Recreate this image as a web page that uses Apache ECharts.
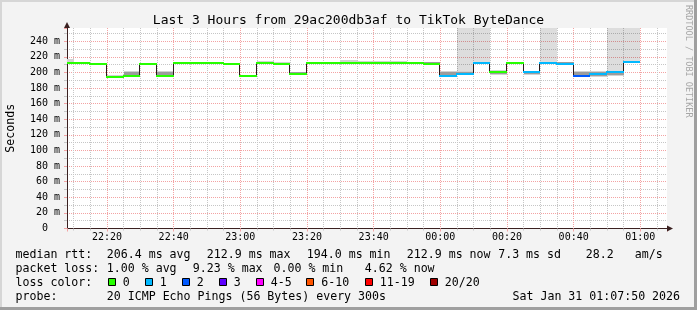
<!DOCTYPE html>
<html><head><meta charset="utf-8">
<script src="https://cdn.jsdelivr.net/npm/echarts@6/dist/echarts.min.js"></script>
<style>html,body{margin:0;padding:0;background:#f3f3f3}#c{width:697px;height:310px}</style>
</head><body><div id="c"></div><script>
// ---- data (each value = 5-minute step ending at the given time) ----
const timeLabels = ['22:10','22:15','22:20','22:25','22:30','22:35','22:40','22:45','22:50','22:55',
  '23:00','23:05','23:10','23:15','23:20','23:25','23:30','23:35','23:40','23:45','23:50','23:55',
  '00:00','00:05','00:10','00:15','00:20','00:25','00:30','00:35','00:40','00:45','00:50','00:55','01:00'];
const medianMs = [212.0,212.0,210.6,194.0,195.6,210.6,195.9,212.2,212.2,212.2,
  210.6,195.6,212.2,210.6,197.4,212.2,212.2,212.3,212.3,212.3,212.3,212.2,
  210.6,195.5,197.4,212.2,200.0,212.2,200.0,212.2,211.0,195.6,197.8,200.0,212.9];
const lossPings = [0,0,0,0,0,0,0,0,0,0,
  0,0,0,0,0,0,0,0,0,0,0,0,
  0,1,1,1,0,0,1,1,1,2,1,1,1];
const smokeLoMs = [212.0,null,null,193.6,195.6,null,195.9,null,null,null,
  null,null,212.2,210.6,197.4,null,null,212.3,212.3,212.3,212.3,null,
  210.6,194.8,196.5,null,196.5,null,197.0,null,210.5,195.0,194.5,196.0,null];
const smokeHiMs = [217.0,null,null,196.5,202.5,null,202.0,null,null,null,
  null,null,214.5,212.8,201.2,null,null,215.5,214.5,214.5,215.2,null,
  213.8,202.5,201.5,null,203.8,null,202.3,null,214.0,202.0,201.8,202.3,null];
const smokeCoreLoMs = [null,null,null,null,196.5,null,196.8,null,null,null,
  null,null,null,null,198.0,null,null,null,null,212.5,null,null,
  211.0,196.2,197.5,null,197.5,null,198.0,null,211.0,196.5,195.5,197.0,null];
const smokeCoreHiMs = [null,null,null,null,201.2,null,200.8,null,null,null,
  null,null,null,null,200.3,null,null,null,null,214.0,null,null,
  213.3,201.2,200.8,null,202.5,null,201.8,null,213.5,200.5,200.5,201.5,null];
const lostPingSmoke = [0,0,0,0,0,0,0,0,0,0,
  0,0,0,0,0,0,0,0,0,0,0,0,
  0,0,1,1,0,0,0,1,0,0,0,1,1];
const xTickLabels = ['22:20','22:40','23:00','23:20','23:40','00:00','00:20','00:40','01:00'];
const lossLegend = ['0','1','2','3','4-5','6-10','11-19','20/20'];
const lossColors = ['#26ff00','#00b8ff','#0059ff','#5e00ff','#ff00ff','#ff5500','#ff0000','#a00000'];
const statsRtt = ['206.4 ms avg','212.9 ms max','194.0 ms min','212.9 ms now','7.3 ms sd','28.2','am/s'];
const statsLoss = ['1.00 % avg','9.23 % max','0.00 % min','4.62 % now'];
const startTime = '22:08', endTime = '01:08', stepMin = 5;

// ---- helpers ----
function toMin(t){ const [h,m]=t.split(':').map(Number); return (h<12?h+24:h)*60+m; }
function fmtMin(v){ const m=Math.round(v)%1440; const h=Math.floor(m/60), mm=m%60; return String(h).padStart(2,'0')+':'+String(mm).padStart(2,'0'); }
function lossColor(n){ if(n<=0) return lossColors[0]; if(n===1) return lossColors[1]; if(n===2) return lossColors[2]; if(n===3) return lossColors[3]; if(n<=5) return lossColors[4]; if(n<=10) return lossColors[5]; if(n<=19) return lossColors[6]; return lossColors[7]; }
const ends = timeLabels.map(toMin);
const segs = ends.map((e,i)=>[e-stepMin, e, medianMs[i], lossPings[i]]);
const steps = [];
ends.forEach((e,i)=>{ if(i>0) steps.push([e-stepMin, medianMs[i-1], medianMs[i]]); });
const outerBand = [], coreBand = [], lossBand = [];
ends.forEach((e,i)=>{
  if(smokeLoMs[i]!=null) outerBand.push([e-stepMin,e,smokeLoMs[i],smokeHiMs[i]]);
  if(smokeCoreLoMs[i]!=null) coreBand.push([e-stepMin,e,smokeCoreLoMs[i],smokeCoreHiMs[i]]);
  if(lostPingSmoke[i]) lossBand.push([e-stepMin,e,smokeHiMs[i]!=null?smokeHiMs[i]:medianMs[i]]);
});

const MONO = "'DejaVu Sans Mono', monospace";
const xMin = toMin(startTime), xMax = toMin(endTime);
const yMax = 257;

function clampX(cs, x){ return Math.max(cs.x, Math.min(cs.x+cs.width, x)); }
function bandItem(fill){
  return function(params, api){
    const cs = params.coordSys;
    const a = api.coord([api.value(0), api.value(3)]);
    const b = api.coord([api.value(1), api.value(2)]);
    const x0 = Math.round(clampX(cs,a[0])), x1 = Math.round(clampX(cs,b[0]));
    const y0 = Math.round(a[1]), y1 = Math.round(b[1]);
    return {type:'rect', shape:{x:x0, y:y0, width:x1-x0, height:y1-y0}, style:{fill:fill}};
  };
}
function lossItem(params, api){
  const cs = params.coordSys;
  const a = api.coord([api.value(0), api.value(2)]);
  const b = api.coord([api.value(1), api.value(2)]);
  const x0 = Math.round(clampX(cs,a[0])), x1 = Math.round(clampX(cs,b[0]));
  return {type:'rect', shape:{x:x0, y:cs.y, width:x1-x0, height:Math.round(a[1])-cs.y}, style:{fill:'rgba(0,0,0,0.135)'}};
}
function stepItem(params, api){
  const a = api.coord([api.value(0), api.value(1)]);
  const b = api.coord([api.value(0), api.value(2)]);
  const x = Math.round(a[0]) - 0.5;
  return {type:'line', shape:{x1:x, y1:Math.round(a[1]), x2:x, y2:Math.round(b[1])}, style:{stroke:'#2a1a1a', lineWidth:1}};
}
function segItem(params, api){
  const cs = params.coordSys;
  const a = api.coord([api.value(0), api.value(2)]);
  const b = api.coord([api.value(1), api.value(2)]);
  const x0 = Math.round(clampX(cs,a[0])) - 1, x1 = Math.round(clampX(cs,b[0]));
  const y = Math.round(a[1]);
  return {type:'line', shape:{x1:Math.max(x0,cs.x), y1:y, x2:x1, y2:y}, style:{stroke:lossColor(api.value(3)), lineWidth:2}};
}

// ---- legend graphics ----
const graphics = [];
function txt(x,y,s,extra){ graphics.push(Object.assign({type:'text', x:x, y:y, silent:true,
  style:{text:s, font:'11.6px '+MONO, fill:'#000', align:'left', verticalAlign:'middle'}}, extra||{})); }
txt(15.5,254.5,'median rtt:');
[106.8,206.8,306.8,406.8,498.2,585.8,634.8].forEach((x,i)=>txt(x,254.5,statsRtt[i]));
txt(15.5,268.5,'packet loss:');
[106.8,192.8,273.5,364.8].forEach((x,i)=>txt(x,268.5,statsLoss[i]));
txt(15.5,282.5,'loss color:');
const boxX=[108.5,145.5,182.5,219.5,256.5,306.5,365.5,430.5], labX=[122.8,159.8,196.8,233.8,270.8,321.2,379.8,444.8];
lossLegend.forEach((l,i)=>{
  graphics.push({type:'rect', silent:true, shape:{x:boxX[i], y:278.5, width:7, height:7}, style:{fill:lossColors[i], stroke:'#000', lineWidth:1}});
  txt(labX[i],282.5,l);
});
txt(15.5,296.5,'probe:');
txt(106.8,296.5,'20 ICMP Echo Pings (56 Bytes) every 300s');
txt(512.5,296.5,'Sat Jan 31 01:07:50 2026');
graphics.push({type:'text', x:688, y:5, rotation:-Math.PI/2, silent:true,
  style:{text:'RRDTOOL / TOBI OETIKER', font:'8.5px '+MONO, fill:'#a6a6a6', align:'left', verticalAlign:'middle'}});
graphics.push({type:'rect', silent:true, shape:{x:0,y:0,width:697,height:2}, style:{fill:'#d6d6d6'}});
graphics.push({type:'rect', silent:true, shape:{x:0,y:0,width:2,height:310}, style:{fill:'#d6d6d6'}});
graphics.push({type:'rect', silent:true, shape:{x:694,y:0,width:3,height:310}, style:{fill:'#9f9f9f'}});
graphics.push({type:'rect', silent:true, shape:{x:0,y:307,width:697,height:3}, style:{fill:'#9f9f9f'}});

const RED = '#f3a3a3', GRAY = '#c6c6c6', AXIS = '#3a2020';
const chart = echarts.init(document.getElementById('c'), null, {renderer:'canvas'});
chart.setOption({
  animation:false,
  backgroundColor:'#f3f3f3',
  title:{text:'Last 3 Hours from 29ac200db3af to TikTok ByteDance', left:'center', top:9,
    textStyle:{fontFamily:MONO, fontSize:13, fontWeight:'normal', color:'#000'}},
  grid:{left:67, top:28, width:600, height:200.5, show:true, backgroundColor:'#fff', borderWidth:0,
    containLabel:false, outerBoundsMode:'none'},
  xAxis:[{
    type:'value', min:xMin, max:xMax, minInterval:5, maxInterval:5, splitNumber:36, position:'bottom', offset:0,
    axisLine:{show:false}, axisLabel:{show:false},
    axisTick:{show:true, length:2, lineStyle:{color:GRAY}},
    splitLine:{show:true, showMaxLine:false, lineStyle:{color:GRAY, type:[1,1], width:1}}
  },{
    type:'value', min:xMin, max:xMax, minInterval:20, maxInterval:20, splitNumber:9, position:'bottom', offset:0,
    axisLine:{show:true, lineStyle:{color:AXIS, width:1}, symbol:['none','triangle'], symbolSize:[6,6], symbolOffset:[0,3]},
    axisTick:{show:true, length:3, lineStyle:{color:RED}},
    axisLabel:{margin:4, fontFamily:MONO, fontSize:10, color:'#000',
      formatter:v=>{ const s=fmtMin(v); return (Math.abs(v-Math.round(v))<1e-6 && Math.round(v)%20===0 && xTickLabels.includes(s))?s:''; }},
    splitLine:{show:true, showMinLine:false, showMaxLine:false, lineStyle:{color:RED, type:[1,1], width:1}}
  }],
  yAxis:[{
    type:'value', min:0, max:yMax, interval:10, position:'left', offset:0,
    axisLine:{show:false}, axisLabel:{show:false},
    axisTick:{show:true, length:3, lineStyle:{color:GRAY}},
    splitLine:{show:true, showMaxLine:false, lineStyle:{color:GRAY, type:[1,1], width:1}}
  },{
    type:'value', min:0, max:yMax, interval:20, position:'left', offset:0,
    name:'Seconds', nameLocation:'middle', nameGap:50, nameRotate:90,
    nameTextStyle:{fontFamily:MONO, fontSize:11.6, color:'#000'},
    axisLine:{show:true, lineStyle:{color:AXIS, width:1}, symbol:['none','triangle'], symbolSize:[6,6], symbolOffset:[0,3]},
    axisTick:{show:true, length:3, lineStyle:{color:RED}},
    axisLabel:{margin:7, fontFamily:MONO, fontSize:10, color:'#000',
      formatter:v=> v===0 ? '0  ' : (v%20===0 ? v+' m' : '')},
    splitLine:{show:true, showMinLine:false, showMaxLine:false, lineStyle:{color:RED, type:[1,1], width:1}}
  }],
  graphic:graphics,
  series:[
    {type:'custom', xAxisIndex:1, yAxisIndex:1, renderItem:lossItem, data:lossBand, encode:{x:[0,1], y:2}, silent:true},
    {type:'custom', xAxisIndex:1, yAxisIndex:1, renderItem:bandItem('#d2d2d2'), data:outerBand, encode:{x:[0,1], y:[2,3]}, silent:true},
    {type:'custom', xAxisIndex:1, yAxisIndex:1, renderItem:bandItem('#9c9c9c'), data:coreBand, encode:{x:[0,1], y:[2,3]}, silent:true},
    {type:'custom', xAxisIndex:1, yAxisIndex:1, renderItem:stepItem, data:steps, encode:{x:0, y:[1,2]}, silent:true},
    {type:'custom', xAxisIndex:1, yAxisIndex:1, renderItem:segItem, data:segs, encode:{x:[0,1], y:2}, silent:true}
  ]
});
</script></body></html>
